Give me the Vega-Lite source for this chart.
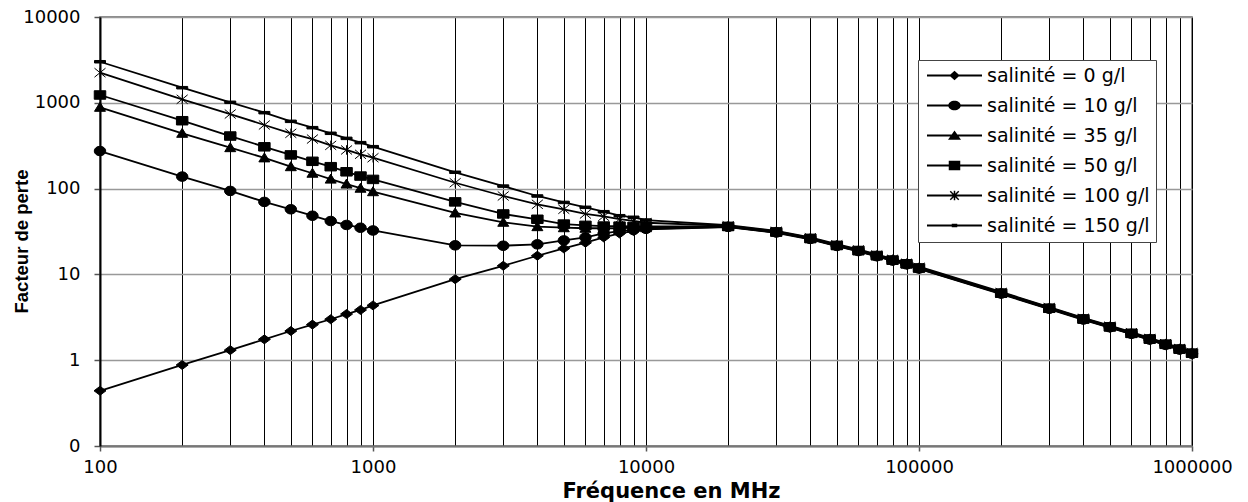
{
  "$schema": "https://vega.github.io/schema/vega-lite/v6.json",
  "width": 1092,
  "height": 429,
  "autosize": {"type": "none"},
  "padding": {"left": 100, "top": 17, "right": 56, "bottom": 56},
  "background": "white",
  "config": {
    "view": {"stroke": "#666", "strokeWidth": 1.5},
    "axis": {"labelColor": "black", "titleColor": "black"}
  },
  "data": {"values": [
    {"s":"salinité = 0 g/l","f":100,"v":0.44},{"s":"salinité = 0 g/l","f":200,"v":0.88},{"s":"salinité = 0 g/l","f":300,"v":1.31},{"s":"salinité = 0 g/l","f":400,"v":1.75},{"s":"salinité = 0 g/l","f":500,"v":2.19},{"s":"salinité = 0 g/l","f":600,"v":2.6},{"s":"salinité = 0 g/l","f":700,"v":3.0},{"s":"salinité = 0 g/l","f":800,"v":3.45},{"s":"salinité = 0 g/l","f":900,"v":3.85},{"s":"salinité = 0 g/l","f":1000,"v":4.35},
    {"s":"salinité = 0 g/l","f":2000,"v":8.8},{"s":"salinité = 0 g/l","f":3000,"v":12.6},{"s":"salinité = 0 g/l","f":4000,"v":16.5},{"s":"salinité = 0 g/l","f":5000,"v":20.1},{"s":"salinité = 0 g/l","f":6000,"v":23.4},{"s":"salinité = 0 g/l","f":7000,"v":27},{"s":"salinité = 0 g/l","f":8000,"v":30},{"s":"salinité = 0 g/l","f":9000,"v":32},{"s":"salinité = 0 g/l","f":10000,"v":33.5},
    {"s":"salinité = 0 g/l","f":20000,"v":35.5},{"s":"salinité = 0 g/l","f":30000,"v":30.5},{"s":"salinité = 0 g/l","f":40000,"v":25.6},{"s":"salinité = 0 g/l","f":50000,"v":21.3},{"s":"salinité = 0 g/l","f":60000,"v":18.5},{"s":"salinité = 0 g/l","f":70000,"v":16.2},{"s":"salinité = 0 g/l","f":80000,"v":14.4},{"s":"salinité = 0 g/l","f":90000,"v":13.0},{"s":"salinité = 0 g/l","f":100000,"v":11.6},
    {"s":"salinité = 0 g/l","f":200000,"v":5.9},{"s":"salinité = 0 g/l","f":300000,"v":3.94},{"s":"salinité = 0 g/l","f":400000,"v":2.95},{"s":"salinité = 0 g/l","f":500000,"v":2.39},{"s":"salinité = 0 g/l","f":600000,"v":2.01},{"s":"salinité = 0 g/l","f":700000,"v":1.72},{"s":"salinité = 0 g/l","f":800000,"v":1.5},{"s":"salinité = 0 g/l","f":900000,"v":1.32},{"s":"salinité = 0 g/l","f":1000000,"v":1.18},

    {"s":"salinité = 10 g/l","f":100,"v":274},{"s":"salinité = 10 g/l","f":200,"v":138},{"s":"salinité = 10 g/l","f":300,"v":94},{"s":"salinité = 10 g/l","f":400,"v":70},{"s":"salinité = 10 g/l","f":500,"v":57.4},{"s":"salinité = 10 g/l","f":600,"v":48.3},{"s":"salinité = 10 g/l","f":700,"v":41.9},{"s":"salinité = 10 g/l","f":800,"v":37.7},{"s":"salinité = 10 g/l","f":900,"v":35},{"s":"salinité = 10 g/l","f":1000,"v":32.5},
    {"s":"salinité = 10 g/l","f":2000,"v":21.8},{"s":"salinité = 10 g/l","f":3000,"v":21.6},{"s":"salinité = 10 g/l","f":4000,"v":22.4},{"s":"salinité = 10 g/l","f":5000,"v":24.9},{"s":"salinité = 10 g/l","f":6000,"v":27},{"s":"salinité = 10 g/l","f":7000,"v":30},{"s":"salinité = 10 g/l","f":8000,"v":32},{"s":"salinité = 10 g/l","f":9000,"v":33},{"s":"salinité = 10 g/l","f":10000,"v":34},
    {"s":"salinité = 10 g/l","f":20000,"v":35.8},{"s":"salinité = 10 g/l","f":30000,"v":30.8},{"s":"salinité = 10 g/l","f":40000,"v":25.9},{"s":"salinité = 10 g/l","f":50000,"v":21.5},{"s":"salinité = 10 g/l","f":60000,"v":18.7},{"s":"salinité = 10 g/l","f":70000,"v":16.3},{"s":"salinité = 10 g/l","f":80000,"v":14.5},{"s":"salinité = 10 g/l","f":90000,"v":13.1},{"s":"salinité = 10 g/l","f":100000,"v":11.7},
    {"s":"salinité = 10 g/l","f":200000,"v":5.97},{"s":"salinité = 10 g/l","f":300000,"v":3.98},{"s":"salinité = 10 g/l","f":400000,"v":2.98},{"s":"salinité = 10 g/l","f":500000,"v":2.42},{"s":"salinité = 10 g/l","f":600000,"v":2.03},{"s":"salinité = 10 g/l","f":700000,"v":1.74},{"s":"salinité = 10 g/l","f":800000,"v":1.51},{"s":"salinité = 10 g/l","f":900000,"v":1.33},{"s":"salinité = 10 g/l","f":1000000,"v":1.19},

    {"s":"salinité = 35 g/l","f":100,"v":886},{"s":"salinité = 35 g/l","f":200,"v":441},{"s":"salinité = 35 g/l","f":300,"v":300},{"s":"salinité = 35 g/l","f":400,"v":228},{"s":"salinité = 35 g/l","f":500,"v":180},{"s":"salinité = 35 g/l","f":600,"v":151},{"s":"salinité = 35 g/l","f":700,"v":129},{"s":"salinité = 35 g/l","f":800,"v":113},{"s":"salinité = 35 g/l","f":900,"v":101},{"s":"salinité = 35 g/l","f":1000,"v":92},
    {"s":"salinité = 35 g/l","f":2000,"v":52},{"s":"salinité = 35 g/l","f":3000,"v":40.5},{"s":"salinité = 35 g/l","f":4000,"v":36},{"s":"salinité = 35 g/l","f":5000,"v":35},{"s":"salinité = 35 g/l","f":6000,"v":34.5},{"s":"salinité = 35 g/l","f":7000,"v":34.5},{"s":"salinité = 35 g/l","f":8000,"v":34.5},{"s":"salinité = 35 g/l","f":9000,"v":35},{"s":"salinité = 35 g/l","f":10000,"v":35},
    {"s":"salinité = 35 g/l","f":20000,"v":36},{"s":"salinité = 35 g/l","f":30000,"v":31},{"s":"salinité = 35 g/l","f":40000,"v":26},{"s":"salinité = 35 g/l","f":50000,"v":21.6},{"s":"salinité = 35 g/l","f":60000,"v":18.8},{"s":"salinité = 35 g/l","f":70000,"v":16.4},{"s":"salinité = 35 g/l","f":80000,"v":14.6},{"s":"salinité = 35 g/l","f":90000,"v":13.2},{"s":"salinité = 35 g/l","f":100000,"v":11.8},
    {"s":"salinité = 35 g/l","f":200000,"v":6.0},{"s":"salinité = 35 g/l","f":300000,"v":4.0},{"s":"salinité = 35 g/l","f":400000,"v":3.0},{"s":"salinité = 35 g/l","f":500000,"v":2.43},{"s":"salinité = 35 g/l","f":600000,"v":2.04},{"s":"salinité = 35 g/l","f":700000,"v":1.75},{"s":"salinité = 35 g/l","f":800000,"v":1.52},{"s":"salinité = 35 g/l","f":900000,"v":1.34},{"s":"salinité = 35 g/l","f":1000000,"v":1.2},

    {"s":"salinité = 50 g/l","f":100,"v":1233},{"s":"salinité = 50 g/l","f":200,"v":618},{"s":"salinité = 50 g/l","f":300,"v":410},{"s":"salinité = 50 g/l","f":400,"v":307},{"s":"salinité = 50 g/l","f":500,"v":247},{"s":"salinité = 50 g/l","f":600,"v":208},{"s":"salinité = 50 g/l","f":700,"v":180},{"s":"salinité = 50 g/l","f":800,"v":157},{"s":"salinité = 50 g/l","f":900,"v":140},{"s":"salinité = 50 g/l","f":1000,"v":128},
    {"s":"salinité = 50 g/l","f":2000,"v":70},{"s":"salinité = 50 g/l","f":3000,"v":50.6},{"s":"salinité = 50 g/l","f":4000,"v":43.9},{"s":"salinité = 50 g/l","f":5000,"v":38.6},{"s":"salinité = 50 g/l","f":6000,"v":37.3},{"s":"salinité = 50 g/l","f":7000,"v":36.6},{"s":"salinité = 50 g/l","f":8000,"v":36.5},{"s":"salinité = 50 g/l","f":9000,"v":36.3},{"s":"salinité = 50 g/l","f":10000,"v":36.2},
    {"s":"salinité = 50 g/l","f":20000,"v":36.3},{"s":"salinité = 50 g/l","f":30000,"v":31.3},{"s":"salinité = 50 g/l","f":40000,"v":26.3},{"s":"salinité = 50 g/l","f":50000,"v":21.8},{"s":"salinité = 50 g/l","f":60000,"v":19.0},{"s":"salinité = 50 g/l","f":70000,"v":16.6},{"s":"salinité = 50 g/l","f":80000,"v":14.7},{"s":"salinité = 50 g/l","f":90000,"v":13.3},{"s":"salinité = 50 g/l","f":100000,"v":11.9},
    {"s":"salinité = 50 g/l","f":200000,"v":6.06},{"s":"salinité = 50 g/l","f":300000,"v":4.04},{"s":"salinité = 50 g/l","f":400000,"v":3.03},{"s":"salinité = 50 g/l","f":500000,"v":2.45},{"s":"salinité = 50 g/l","f":600000,"v":2.06},{"s":"salinité = 50 g/l","f":700000,"v":1.77},{"s":"salinité = 50 g/l","f":800000,"v":1.54},{"s":"salinité = 50 g/l","f":900000,"v":1.35},{"s":"salinité = 50 g/l","f":1000000,"v":1.21},

    {"s":"salinité = 100 g/l","f":100,"v":2244},{"s":"salinité = 100 g/l","f":200,"v":1099},{"s":"salinité = 100 g/l","f":300,"v":740},{"s":"salinité = 100 g/l","f":400,"v":551},{"s":"salinité = 100 g/l","f":500,"v":441},{"s":"salinité = 100 g/l","f":600,"v":378},{"s":"salinité = 100 g/l","f":700,"v":319},{"s":"salinité = 100 g/l","f":800,"v":282},{"s":"salinité = 100 g/l","f":900,"v":251},{"s":"salinité = 100 g/l","f":1000,"v":229},
    {"s":"salinité = 100 g/l","f":2000,"v":117},{"s":"salinité = 100 g/l","f":3000,"v":82},{"s":"salinité = 100 g/l","f":4000,"v":65.6},{"s":"salinité = 100 g/l","f":5000,"v":57.4},{"s":"salinité = 100 g/l","f":6000,"v":50.6},{"s":"salinité = 100 g/l","f":7000,"v":47.5},{"s":"salinité = 100 g/l","f":8000,"v":44},{"s":"salinité = 100 g/l","f":9000,"v":42},{"s":"salinité = 100 g/l","f":10000,"v":40},
    {"s":"salinité = 100 g/l","f":20000,"v":36.8},{"s":"salinité = 100 g/l","f":30000,"v":31.8},{"s":"salinité = 100 g/l","f":40000,"v":26.7},{"s":"salinité = 100 g/l","f":50000,"v":22.1},{"s":"salinité = 100 g/l","f":60000,"v":19.3},{"s":"salinité = 100 g/l","f":70000,"v":16.8},{"s":"salinité = 100 g/l","f":80000,"v":15.0},{"s":"salinité = 100 g/l","f":90000,"v":13.5},{"s":"salinité = 100 g/l","f":100000,"v":12.1},
    {"s":"salinité = 100 g/l","f":200000,"v":6.15},{"s":"salinité = 100 g/l","f":300000,"v":4.1},{"s":"salinité = 100 g/l","f":400000,"v":3.08},{"s":"salinité = 100 g/l","f":500000,"v":2.49},{"s":"salinité = 100 g/l","f":600000,"v":2.09},{"s":"salinité = 100 g/l","f":700000,"v":1.79},{"s":"salinité = 100 g/l","f":800000,"v":1.56},{"s":"salinité = 100 g/l","f":900000,"v":1.37},{"s":"salinité = 100 g/l","f":1000000,"v":1.23},

    {"s":"salinité = 150 g/l","f":100,"v":3010},{"s":"salinité = 150 g/l","f":200,"v":1500},{"s":"salinité = 150 g/l","f":300,"v":1013},{"s":"salinité = 150 g/l","f":400,"v":767},{"s":"salinité = 150 g/l","f":500,"v":608},{"s":"salinité = 150 g/l","f":600,"v":513},{"s":"salinité = 150 g/l","f":700,"v":441},{"s":"salinité = 150 g/l","f":800,"v":385},{"s":"salinité = 150 g/l","f":900,"v":343},{"s":"salinité = 150 g/l","f":1000,"v":308},
    {"s":"salinité = 150 g/l","f":2000,"v":155},{"s":"salinité = 150 g/l","f":3000,"v":107},{"s":"salinité = 150 g/l","f":4000,"v":82},{"s":"salinité = 150 g/l","f":5000,"v":69},{"s":"salinité = 150 g/l","f":6000,"v":60.5},{"s":"salinité = 150 g/l","f":7000,"v":53.8},{"s":"salinité = 150 g/l","f":8000,"v":48.3},{"s":"salinité = 150 g/l","f":9000,"v":46.3},{"s":"salinité = 150 g/l","f":10000,"v":43},
    {"s":"salinité = 150 g/l","f":20000,"v":37.4},{"s":"salinité = 150 g/l","f":30000,"v":32.2},{"s":"salinité = 150 g/l","f":40000,"v":27.0},{"s":"salinité = 150 g/l","f":50000,"v":22.5},{"s":"salinité = 150 g/l","f":60000,"v":19.6},{"s":"salinité = 150 g/l","f":70000,"v":17.1},{"s":"salinité = 150 g/l","f":80000,"v":15.2},{"s":"salinité = 150 g/l","f":90000,"v":13.7},{"s":"salinité = 150 g/l","f":100000,"v":12.3},
    {"s":"salinité = 150 g/l","f":200000,"v":6.24},{"s":"salinité = 150 g/l","f":300000,"v":4.16},{"s":"salinité = 150 g/l","f":400000,"v":3.12},{"s":"salinité = 150 g/l","f":500000,"v":2.53},{"s":"salinité = 150 g/l","f":600000,"v":2.12},{"s":"salinité = 150 g/l","f":700000,"v":1.82},{"s":"salinité = 150 g/l","f":800000,"v":1.58},{"s":"salinité = 150 g/l","f":900000,"v":1.39},{"s":"salinité = 150 g/l","f":1000000,"v":1.25}
  ]},
  "encoding": {
    "x": {
      "field": "f", "type": "quantitative",
      "scale": {"type": "log", "domain": [100, 1000000], "nice": false},
      "axis": {
        "values": [100,200,300,400,500,600,700,800,900,1000,2000,3000,4000,5000,6000,7000,8000,9000,10000,20000,30000,40000,50000,60000,70000,80000,90000,100000,200000,300000,400000,500000,600000,700000,800000,900000,1000000],
        "labelExpr": "abs(log(datum.value)/LN10 - round(log(datum.value)/LN10)) < 0.001 ? format(datum.value, 'd') : ''",
        "grid": true, "gridColor": "black", "gridWidth": 1, "gridOpacity": 1,
        "tickSize": 5, "tickColor": "#555", "tickWidth": 1.5,
        "tickOpacity": {"condition": {"test": "abs(log(datum.value)/LN10 - round(log(datum.value)/LN10)) < 0.001", "value": 1}, "value": 0},
        "domainColor": "#777", "domainWidth": 2,
        "labelFont": "DejaVu Sans", "labelFontSize": 18, "labelBaseline": "alphabetic", "labelPadding": 21,
        "labelFlush": false, "labelOverlap": false,
        "title": "Fréquence en MHz", "titleFont": "DejaVu Sans", "titleFontWeight": "bold", "titleFontSize": 21,
        "titleX": 571, "titleY": 51, "titleBaseline": "alphabetic"
      }
    },
    "y": {
      "field": "v", "type": "quantitative",
      "scale": {"type": "log", "domain": [0.1, 10000], "nice": false},
      "axis": {
        "values": [0.1, 1, 10, 100, 1000, 10000],
        "labelExpr": "datum.value < 0.5 ? '0' : format(datum.value, 'd')",
        "grid": true, "gridColor": "#999", "gridWidth": 1.5, "gridOpacity": 1,
        "tickSize": 6, "tickColor": "#555", "tickWidth": 1.5,
        "domainColor": "black", "domainWidth": 2,
        "labelFont": "DejaVu Sans", "labelFontSize": 18, "labelPadding": 14, "labelFlush": false, "labelOverlap": false,
        "title": "Facteur de perte", "titleFont": "Liberation Sans", "titleFontWeight": "bold", "titleFontSize": 18.5,
        "titleX": -79, "titleY": 224, "titleBaseline": "middle", "titleAngle": -90
      }
    }
  },
  "resolve": {"scale": {"shape": "independent"}, "legend": {"shape": "independent"}},
  "layer": [
    {
      "mark": {"type": "line", "color": "black", "strokeWidth": 1.8},
      "encoding": {"detail": {"field": "s"}}
    },
    {
      "mark": {"type": "point", "filled": true, "fill": "black", "stroke": "black", "strokeWidth": 1, "size": 100, "opacity": 1, "fillOpacity": 1},
      "encoding": {
        "shape": {
          "field": "s", "type": "nominal",
          "scale": {
            "domain": ["salinité = 0 g/l", "salinité = 10 g/l", "salinité = 35 g/l", "salinité = 50 g/l", "salinité = 100 g/l", "salinité = 150 g/l"],
            "range": [
              "M0,-0.9L1.2,0L0,0.9L-1.2,0Z",
              "M-1.15,0A1.15,0.95,0,1,1,1.15,0A1.15,0.95,0,1,1,-1.15,0Z",
              "M0,-1L1.1,0.8L-1.1,0.8Z",
              "M-1.15,-0.85L1.15,-0.85L1.15,0.85L-1.15,0.85Z",
              "M-1.1,-0.9L1.1,0.9M-1.1,0.9L1.1,-0.9M0,-0.95L0,0.95",
              "M-1.1,-0.25L1.1,-0.25L1.1,0.25L-1.1,0.25Z"
            ]
          },
          "legend": null
        }
      }
    },
    {
      "transform": [{"filter": "false"}],
      "mark": {"type": "point", "filled": true, "fill": "black", "strokeWidth": 0, "size": 100},
      "encoding": {
        "shape": {
          "field": "s", "type": "nominal",
          "scale": {
            "domain": ["salinité = 0 g/l", "salinité = 10 g/l", "salinité = 35 g/l", "salinité = 50 g/l", "salinité = 100 g/l", "salinité = 150 g/l"],
            "range": [
              "M-5.5,-0.2L5.5,-0.2L5.5,0.2L-5.5,0.2ZM0,-0.95L1.05,0L0,0.95L-1.05,0Z",
              "M-5.5,-0.2L5.5,-0.2L5.5,0.2L-5.5,0.2ZM-1.25,0A1.25,0.95,0,1,1,1.25,0A1.25,0.95,0,1,1,-1.25,0Z",
              "M-5.5,-0.2L5.5,-0.2L5.5,0.2L-5.5,0.2ZM0,-1L1.3,0.85L-1.3,0.85Z",
              "M-5.5,-0.2L5.5,-0.2L5.5,0.2L-5.5,0.2ZM-1.15,-0.95L1.15,-0.95L1.15,0.95L-1.15,0.95Z",
              "M-5.5,-0.2L5.5,-0.2L5.5,0.2L-5.5,0.2ZM-0.95,-0.75L-0.75,-0.95L0.95,0.75L0.75,0.95ZM-0.95,0.75L0.75,-0.95L0.95,-0.75L-0.75,0.95ZM-0.15,-0.95L0.15,-0.95L0.15,0.95L-0.15,0.95Z",
              "M-5.5,-0.2L5.5,-0.2L5.5,0.2L-5.5,0.2ZM-0.55,-0.35L0.55,-0.35L0.55,0.35L-0.55,0.35Z"
            ]
          },
          "legend": {
            "title": null, "orient": "none", "legendX": 818, "legendY": 43,
            "padding": 6, "strokeColor": "#444", "fillColor": "white",
            "symbolSize": 100, "symbolStrokeWidth": 0, "symbolFillColor": "black", "symbolOpacity": 1,
            "symbolOffset": 21, "labelOffset": 23, "rowPadding": 10,
            "labelFont": "DejaVu Sans", "labelFontSize": 19, "labelColor": "black", "labelLimit": 400
          }
        }
      }
    }
  ]
}
